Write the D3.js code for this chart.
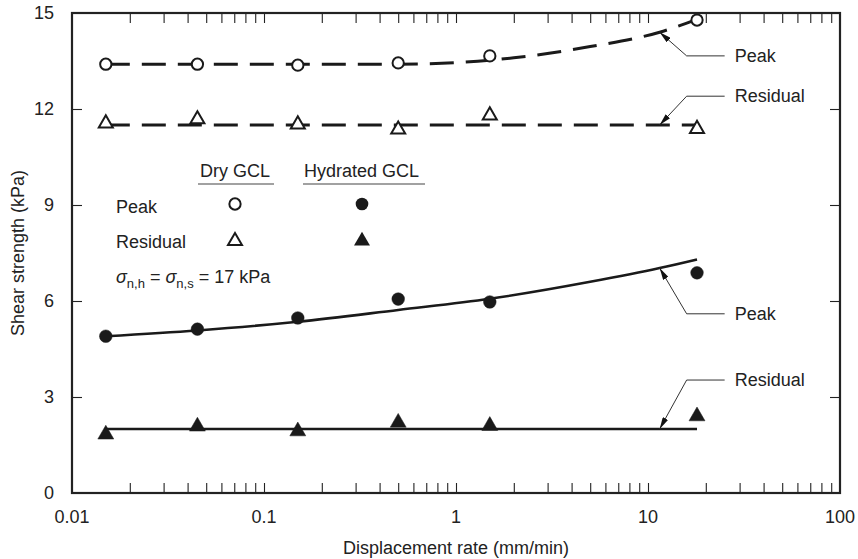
<!DOCTYPE html>
<html>
<head>
<meta charset="utf-8">
<script src="https://cdn.jsdelivr.net/npm/d3@7"></script>
<style>
  body { margin: 0; background: #fff; }
  text { font-family: "Liberation Sans", Arial, sans-serif; fill: #222; }
</style>
</head>
<body>
<div id="chart"></div>
<script>
// measured rates (mm/min)
var rates = [0.015, 0.045, 0.15, 0.5, 1.5, 18];

var dryPeak = [13.4, 13.4, 13.37, 13.44, 13.66, 14.78];
var dryResidual = [11.55, 11.68, 11.52, 11.36, 11.8, 11.38];
var hydPeak = [4.9, 5.12, 5.47, 6.06, 5.97, 6.88];
var hydResidual = [1.83, 2.08, 1.93, 2.2, 2.1, 2.4];

// trend lines
var dryPeakFitX = [0.015, 0.1, 0.5, 1, 2, 5, 11.5, 18];
var dryPeakFitY = [13.4, 13.4, 13.4, 13.45, 13.6, 13.95, 14.4, 14.8];
var dryResFitX = [0.015, 18];
var dryResFitY = [11.5, 11.5];
var hydPeakFitX = [0.015, 0.045, 0.15, 0.5, 1.5, 5, 11.5, 18];
var hydPeakFitY = [4.9, 5.08, 5.35, 5.72, 6.07, 6.6, 7.03, 7.3];
var hydResFitX = [0.015, 18];
var hydResFitY = [2.0, 2.0];

var xTickLabels = ["0.01", "0.1", "1", "10", "100"];
var yTicks = [0, 3, 6, 9, 12, 15];

// annotation: text, arrow tip (data), label height (data)
var notes = [
  { text: "Peak", tipX: 11.5, tipY: 14.4, labelY: 13.66 },
  { text: "Residual", tipX: 11.5, tipY: 11.5, labelY: 12.4 },
  { text: "Peak", tipX: 11.5, tipY: 7.03, labelY: 5.6 },
  { text: "Residual", tipX: 11.5, tipY: 2.0, labelY: 3.53 }
];

var svgWidth = 858, svgHeight = 559;
var margin = { top: 13, right: 18, bottom: 66, left: 72 };
var width = svgWidth - margin.left - margin.right;
var height = svgHeight - margin.top - margin.bottom;

var svg = d3.select("#chart").append("svg")
  .attr("width", svgWidth)
  .attr("height", svgHeight);

var g = svg.append("g")
  .attr("transform", "translate(" + margin.left + "," + margin.top + ")");

var x = d3.scaleLog().domain([0.01, 100]).range([0, width]);
var y = d3.scaleLinear().domain([0, 15]).range([height, 0]);

// minor/decade ticks on x (inside, top and bottom)
var xMinor = [];
[0.01, 0.1, 1, 10].forEach(function(d) {
  for (var k = 2; k <= 10; k++) xMinor.push(d * k);
});
xMinor = xMinor.filter(function(v) { return v < 99; });

var tickLen = 10;
g.append("g")
  .attr("transform", "translate(0," + height + ")")
  .call(d3.axisBottom(x).tickValues(xMinor).tickSize(-tickLen).tickFormat(""))
  .call(function(a) { a.select(".domain").remove(); });
g.append("g")
  .call(d3.axisTop(x).tickValues(xMinor).tickSize(-tickLen).tickFormat(""))
  .call(function(a) { a.select(".domain").remove(); });
g.append("g")
  .call(d3.axisLeft(y).tickValues(yTicks.slice(1, -1)).tickSize(-tickLen).tickFormat(""))
  .call(function(a) { a.select(".domain").remove(); });
g.append("g")
  .attr("transform", "translate(" + width + ",0)")
  .call(d3.axisRight(y).tickValues(yTicks.slice(1, -1)).tickSize(-tickLen).tickFormat(""))
  .call(function(a) { a.select(".domain").remove(); });
g.selectAll(".tick line").attr("stroke", "#222").attr("stroke-width", 1.1);

// tick labels
g.selectAll(".xlab").data(xTickLabels).enter().append("text")
  .attr("x", function(d) { return x(+d); })
  .attr("y", height + 30)
  .attr("text-anchor", "middle")
  .style("font-size", "18px")
  .text(function(d) { return d; });
g.selectAll(".ylab").data(yTicks).enter().append("text")
  .attr("x", -18)
  .attr("y", function(d) { return y(d) + 6; })
  .attr("text-anchor", "end")
  .style("font-size", "18px")
  .text(function(d) { return d; });

// frame
g.append("rect")
  .attr("width", width).attr("height", height)
  .attr("fill", "none").attr("stroke", "#222").attr("stroke-width", 2.2);

// axis titles
svg.append("text")
  .attr("x", margin.left + width / 2)
  .attr("y", 554)
  .attr("text-anchor", "middle")
  .style("font-size", "18px")
  .text("Displacement rate (mm/min)");
svg.append("text")
  .attr("transform", "translate(24," + (margin.top + height / 2) + ") rotate(-90)")
  .attr("text-anchor", "middle")
  .style("font-size", "18px")
  .text("Shear strength (kPa)");

// fit lines
var line = d3.line()
  .x(function(d) { return x(d[0]); })
  .y(function(d) { return y(d[1]); })
  .curve(d3.curveMonotoneX);

function fit(xs, ys, dashed) {
  g.append("path")
    .datum(d3.zip(xs, ys))
    .attr("d", line)
    .attr("fill", "none")
    .attr("stroke", "#1a1a1a")
    .attr("stroke-width", dashed ? 3 : 2.6)
    .attr("stroke-dasharray", dashed ? "24,12" : null);
}
fit(dryPeakFitX, dryPeakFitY, true);
fit(dryResFitX, dryResFitY, true);
fit(hydPeakFitX, hydPeakFitY, false);
fit(hydResFitX, hydResFitY, false);

// markers
var circleOpen = d3.symbol().type(d3.symbolCircle).size(100);
var circleFill = d3.symbol().type(d3.symbolCircle).size(125);
var triOpen = d3.symbol().type(d3.symbolTriangle).size(85);
var triFill = d3.symbol().type(d3.symbolTriangle).size(110);

function markers(vals, sym, filled) {
  g.append("g").selectAll("path")
    .data(d3.zip(rates, vals))
    .enter().append("path")
    .attr("transform", function(d) { return "translate(" + x(d[0]) + "," + y(d[1]) + ")"; })
    .attr("d", sym)
    .attr("fill", filled ? "#1a1a1a" : "#fff")
    .attr("stroke", "#1a1a1a")
    .attr("stroke-width", filled ? 0.5 : 2);
}
markers(dryPeak, circleOpen, false);
markers(dryResidual, triOpen, false);
markers(hydPeak, circleFill, true);
markers(hydResidual, triFill, true);

// annotations
var defs = svg.append("defs");
defs.append("marker")
  .attr("id", "arrow")
  .attr("viewBox", "0 0 12 6")
  .attr("refX", 12).attr("refY", 3)
  .attr("markerWidth", 12).attr("markerHeight", 6)
  .attr("markerUnits", "userSpaceOnUse")
  .attr("orient", "auto")
  .append("path").attr("d", "M0,0 L12,3 L0,6 Z").attr("fill", "#111");

notes.forEach(function(n) {
  var tx = x(n.tipX), ty = y(n.tipY), ly = y(n.labelY);
  var ex = tx + 27;
  g.append("path")
    .attr("d", "M" + (ex + 38) + "," + ly + " L" + ex + "," + ly + " L" + tx + "," + ty)
    .attr("fill", "none")
    .attr("stroke", "#333")
    .attr("stroke-width", 1)
    .attr("marker-end", "url(#arrow)");
  g.append("text")
    .attr("x", ex + 48)
    .attr("y", ly + 6)
    .style("font-size", "18px")
    .text(n.text);
});

// legend
var lg = svg.append("g");
lg.append("text").attr("x", 200).attr("y", 177).style("font-size", "18px").text("Dry GCL");
lg.append("text").attr("x", 304).attr("y", 177).style("font-size", "18px").text("Hydrated GCL");
lg.append("line").attr("x1", 198).attr("x2", 274).attr("y1", 184).attr("y2", 184)
  .attr("stroke", "#444").attr("stroke-width", 1.2);
lg.append("line").attr("x1", 303).attr("x2", 425).attr("y1", 184).attr("y2", 184)
  .attr("stroke", "#444").attr("stroke-width", 1.2);
lg.append("text").attr("x", 116).attr("y", 213).style("font-size", "18px").text("Peak");
lg.append("text").attr("x", 116).attr("y", 248).style("font-size", "18px").text("Residual");

lg.append("path").attr("transform", "translate(235,204)").attr("d", circleOpen)
  .attr("fill", "#fff").attr("stroke", "#1a1a1a").attr("stroke-width", 2);
lg.append("path").attr("transform", "translate(362,204)").attr("d", circleFill)
  .attr("fill", "#1a1a1a");
lg.append("path").attr("transform", "translate(235,241)").attr("d", triOpen)
  .attr("fill", "#fff").attr("stroke", "#1a1a1a").attr("stroke-width", 2);
lg.append("path").attr("transform", "translate(362,241)").attr("d", triFill)
  .attr("fill", "#1a1a1a");

var sig = lg.append("text").attr("x", 116).attr("y", 283).style("font-size", "18px");
sig.append("tspan").style("font-style", "italic").text("σ");
sig.append("tspan").attr("dy", 5).style("font-size", "13px").text("n,h");
sig.append("tspan").attr("dy", -5).text(" = ");
sig.append("tspan").style("font-style", "italic").text("σ");
sig.append("tspan").attr("dy", 5).style("font-size", "13px").text("n,s");
sig.append("tspan").attr("dy", -5).text(" = 17 kPa");
</script>
</body>
</html>
